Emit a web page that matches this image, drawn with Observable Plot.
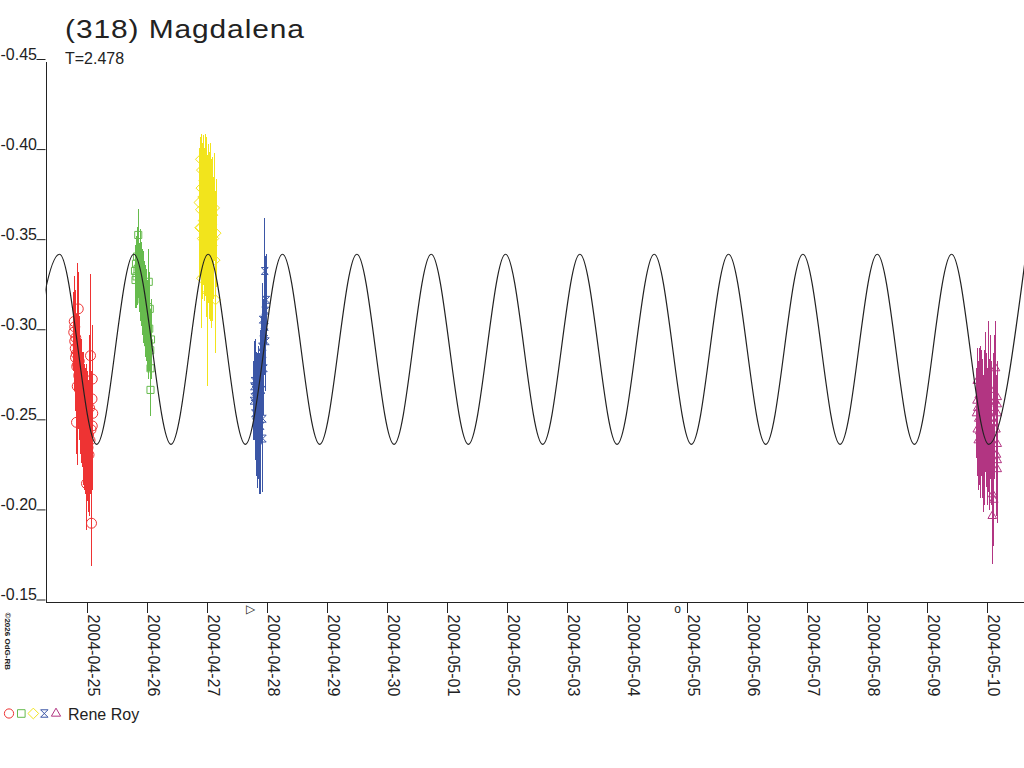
<!DOCTYPE html>
<html>
<head>
<meta charset="utf-8">
<script src="https://cdn.jsdelivr.net/npm/d3@7"></script>
<script src="https://cdn.jsdelivr.net/npm/@observablehq/plot@0.6"></script>
<style>
  html, body { margin: 0; padding: 0; background: #fff; }
  body { width: 1024px; height: 768px; overflow: hidden; font-family: "Liberation Sans", Arial, sans-serif; color: #222; }
  #title { position: relative; height: 40px; z-index: 2; }
  #title .t { position: absolute; left: 65px; top: 15.5px; font-size: 26px; line-height: 26px; letter-spacing: 0.8px; transform: scaleX(1.15); transform-origin: 0 0; white-space: nowrap; }
  #chart { position: relative; height: 665px; }
  #chart .sub { position: absolute; left: 65px; top: 10.5px; font-size: 16px; line-height: 16px; white-space: nowrap; }
  #chart svg line { shape-rendering: crispEdges; }
  #legend { position: relative; height: 24px; font-size: 16px; line-height: 16px; }
  #legend svg { position: absolute; left: 0; top: 0; }
  #legend .name { position: absolute; left: 68px; top: 1.5px; white-space: nowrap; }
</style>
</head>
<body>
<div id="title"><div class="t"></div></div>
<div id="chart"><div class="sub"></div></div>
<div id="legend"></div>
<script>
const titleText = "(318) Magdalena";
const subtitleText = "T=2.478";
const observer = "Rene Roy";
const copyright = "\u00a92026 OdG-RB";

const yTicks = [-0.45, -0.40, -0.35, -0.30, -0.25, -0.20, -0.15];
const xTickLabels = ["2004-04-25","2004-04-26","2004-04-27","2004-04-28","2004-04-29","2004-04-30","2004-05-01","2004-05-02","2004-05-03","2004-05-04","2004-05-05","2004-05-06","2004-05-07","2004-05-08","2004-05-09","2004-05-10"];
const xStart = "2004-04-24T07:48Z";
const xEnd = "2004-05-10T15:12Z";

// fitted lightcurve: extrema
const fitTimes = ["2004-04-23T22:20Z","2004-04-24T13:12Z","2004-04-25T04:04Z","2004-04-25T18:56Z","2004-04-26T09:48Z","2004-04-27T00:40Z","2004-04-27T15:32Z","2004-04-28T06:24Z","2004-04-28T21:17Z","2004-04-29T12:09Z","2004-04-30T03:01Z","2004-04-30T17:53Z","2004-05-01T08:45Z","2004-05-01T23:37Z","2004-05-02T14:29Z","2004-05-03T05:21Z","2004-05-03T20:13Z","2004-05-04T11:05Z","2004-05-05T01:57Z","2004-05-05T16:49Z","2004-05-06T07:42Z","2004-05-06T22:34Z","2004-05-07T13:26Z","2004-05-08T04:18Z","2004-05-08T19:10Z","2004-05-09T10:02Z","2004-05-10T00:54Z","2004-05-10T15:46Z"];
const fitMags = [-0.2378,-0.3433,-0.2378,-0.3433,-0.2378,-0.3433,-0.2378,-0.3433,-0.2378,-0.3433,-0.2378,-0.3433,-0.2378,-0.3433,-0.2378,-0.3433,-0.2378,-0.3433,-0.2378,-0.3433,-0.2378,-0.3433,-0.2378,-0.3433,-0.2378,-0.3433,-0.2378,-0.3433];

// sessions: hours from 2004-04-25 00:00 UT, relative magnitude, error
const redHours = [-5.1,-4.9,-4.7,-4.7,-4.5,-4.4,-4.3,-4.1,-4.0,-3.9,-3.7,-3.5,-3.3,-3.1,-2.9,-2.7,-2.5,-2.3,-2.1,-1.9,-1.7,-1.5,-1.3,-1.1,-0.9,-0.7,-0.5,-0.3,-0.1,0.0,0.2,0.4,0.6,0.8,1.0,1.2,1.4,1.6,1.8,2.0,2.2,2.3,2.3,2.5];
const redMags  = [-0.300,-0.306,-0.303,-0.295,-0.291,-0.286,-0.297,-0.288,-0.250,-0.281,-0.270,-0.282,-0.313,-0.276,-0.284,-0.268,-0.274,-0.262,-0.270,-0.259,-0.265,-0.255,-0.261,-0.249,-0.256,-0.244,-0.252,-0.240,-0.247,-0.216,-0.238,-0.250,-0.236,-0.243,-0.232,-0.258,-0.240,-0.287,-0.246,-0.194,-0.263,-0.274,-0.248,-0.255];
const redErrs  = [0.022,0.025,0.020,0.028,0.024,0.030,0.026,0.022,0.018,0.027,0.024,0.056,0.020,0.030,0.025,0.028,0.022,0.030,0.026,0.032,0.024,0.030,0.028,0.034,0.026,0.032,0.028,0.030,0.035,0.026,0.032,0.028,0.036,0.030,0.034,0.040,0.030,0.045,0.032,0.024,0.040,0.030,0.036,0.028];

const greenHours = [19.4,19.6,19.8,20.0,20.2,20.4,20.7,20.9,21.1,21.2,21.4,21.6,21.8,22.0,22.2,22.4,22.6,22.8,23.0,23.2,23.4,23.6,23.8,24.0,24.2,24.4,24.6,24.9,24.9,25.1,25.3,25.5,25.6,25.6,25.8];
const greenMags  = [-0.334,-0.329,-0.338,-0.331,-0.342,-0.335,-0.354,-0.336,-0.330,-0.328,-0.339,-0.326,-0.333,-0.322,-0.330,-0.318,-0.327,-0.315,-0.322,-0.312,-0.319,-0.308,-0.316,-0.305,-0.311,-0.300,-0.314,-0.328,-0.294,-0.302,-0.313,-0.290,-0.280,-0.268,-0.296];
const greenErrs  = [0.014,0.016,0.015,0.018,0.016,0.020,0.014,0.017,0.019,0.016,0.018,0.020,0.017,0.019,0.016,0.020,0.018,0.021,0.017,0.020,0.018,0.022,0.019,0.021,0.018,0.022,0.020,0.018,0.020,0.024,0.020,0.022,0.024,0.015,0.022];

const yellowHours = [45.0,45.3,45.6,45.6,45.6,45.8,46.0,46.0,46.3,46.5,46.7,46.9,47.1,47.3,47.5,47.7,47.9,48.1,48.3,48.5,48.7,48.9,49.1,49.3,49.5,49.7,49.9,50.1,50.3,50.5,50.9,51.2,51.4,51.6,51.8];
const yellowMags  = [-0.372,-0.358,-0.396,-0.368,-0.358,-0.380,-0.390,-0.330,-0.352,-0.375,-0.362,-0.384,-0.355,-0.370,-0.365,-0.366,-0.378,-0.350,-0.362,-0.322,-0.372,-0.356,-0.345,-0.366,-0.350,-0.375,-0.342,-0.360,-0.348,-0.365,-0.352,-0.369,-0.340,-0.318,-0.355];
const yellowErrs  = [0.030,0.028,0.012,0.032,0.026,0.030,0.020,0.028,0.034,0.030,0.036,0.025,0.038,0.032,0.045,0.034,0.030,0.042,0.036,0.052,0.032,0.040,0.038,0.034,0.044,0.030,0.040,0.036,0.042,0.032,0.034,0.030,0.038,0.030,0.030];

const blueHours = [66.8,67.0,67.2,67.2,67.4,67.6,67.8,68.0,68.2,68.4,68.6,68.8,69.0,69.2,69.4,69.6,69.8,70.0,70.2,70.5,70.5,70.5,70.5,70.7,70.9,71.1,71.3,71.3,71.5,71.7,71.9];
const blueMags  = [-0.262,-0.270,-0.273,-0.264,-0.255,-0.268,-0.250,-0.262,-0.245,-0.258,-0.266,-0.252,-0.240,-0.260,-0.275,-0.248,-0.285,-0.268,-0.292,-0.307,-0.288,-0.252,-0.241,-0.296,-0.280,-0.300,-0.334,-0.303,-0.312,-0.295,-0.318];
const blueErrs  = [0.022,0.025,0.020,0.024,0.026,0.028,0.030,0.027,0.032,0.030,0.026,0.034,0.030,0.028,0.026,0.038,0.024,0.030,0.025,0.020,0.024,0.022,0.030,0.022,0.026,0.024,0.029,0.024,0.030,0.028,0.025];

const magentaHours = [356.0,356.2,356.3,356.3,356.5,356.7,356.9,357.1,357.3,357.5,357.7,357.9,358.1,358.3,358.5,358.7,358.9,359.1,359.3,359.5,359.7,359.9,360.1,360.3,360.5,360.7,360.9,361.1,361.3,361.5,361.7,361.9,362.1,362.3,362.5,362.7,362.9,363.1,363.3,363.6,363.8,364.0,364.3,364.3,364.3,364.3,364.3,364.3];
const magentaMags  = [-0.255,-0.262,-0.273,-0.246,-0.258,-0.240,-0.252,-0.265,-0.245,-0.258,-0.236,-0.250,-0.262,-0.242,-0.255,-0.232,-0.248,-0.260,-0.240,-0.252,-0.266,-0.244,-0.256,-0.238,-0.250,-0.262,-0.243,-0.255,-0.235,-0.248,-0.268,-0.240,-0.252,-0.198,-0.210,-0.258,-0.207,-0.250,-0.262,-0.280,-0.246,-0.232,-0.264,-0.260,-0.255,-0.238,-0.229,-0.224];
const magentaErrs  = [0.025,0.022,0.018,0.026,0.030,0.028,0.032,0.026,0.030,0.034,0.028,0.030,0.028,0.034,0.030,0.032,0.028,0.030,0.036,0.030,0.034,0.030,0.032,0.034,0.030,0.044,0.032,0.030,0.034,0.030,0.030,0.036,0.032,0.022,0.039,0.030,0.026,0.032,0.036,0.026,0.030,0.034,0.020,0.022,0.024,0.026,0.028,0.030];

// small markers under the axis
const markerTimes = ["2004-04-27T17:36Z", "2004-05-04T20:24Z"];
const markerGlyphs = ["\u25b7", "o"];

// ---- build tables ----
const base = Date.UTC(2004, 3, 25);
const table = (hs, ms, es) => hs.map((h, i) => ({t: new Date(base + h * 3600e3), m: ms[i], e: es[i]}));
const hourglass = {draw(ctx, size) { const s = Math.sqrt(size) / 2; ctx.moveTo(-s, -s); ctx.lineTo(s, -s); ctx.lineTo(-s, s); ctx.lineTo(s, s); ctx.closePath(); }};
const sessions = [
  {data: table(redHours, redMags, redErrs), color: "#ee3333", symbol: "circle", r: 5},
  {data: table(greenHours, greenMags, greenErrs), color: "#66bb4d", symbol: "square", r: 4},
  {data: table(yellowHours, yellowMags, yellowErrs), color: "#f2e41c", symbol: "diamond2", r: 4.5},
  {data: table(blueHours, blueMags, blueErrs), color: "#3b56a6", symbol: hourglass, r: 3.9},
  {data: table(magentaHours, magentaMags, magentaErrs), color: "#b23582", symbol: "triangle", r: 3.2}
];
const fit = fitTimes.map((t, i) => ({t: new Date(t), m: fitMags[i]}));
const markers = markerTimes.map((t, i) => ({t: new Date(t), s: markerGlyphs[i]}));
const xTicks = xTickLabels.map(s => new Date(s + "T00:00Z"));
const x0 = new Date(xStart), x1 = new Date(xEnd);

const marks = [];
for (const s of sessions) {
  marks.push(Plot.dot(s.data, {x: "t", y: "m", symbol: s.symbol, r: s.r, stroke: s.color, strokeWidth: 1, fill: "none"}));
}
for (const s of sessions) {
  marks.push(Plot.ruleX(s.data, {x: "t", y1: d => d.m - d.e, y2: d => d.m + d.e, stroke: s.color, strokeWidth: 1}));
}
marks.push(
  Plot.line(fit, {x: "t", y: "m", curve: "monotone-x", stroke: "#222", strokeWidth: 1.2, clip: true}),
  Plot.ruleX([x0], {stroke: "#222"}),
  Plot.ruleY([-0.15], {stroke: "#222"}),
  Plot.axisY({ticks: yTicks, tickSize: 9, tickPadding: 0, tickFormat: d => d.toFixed(2), lineAnchor: "bottom", dy: -2.5, stroke: "#222", fill: "#222"}),
  Plot.axisX({ticks: xTicks, tickSize: 11, tickPadding: 1, tickFormat: d3.utcFormat("%Y-%m-%d"), tickRotate: 90, textAnchor: "start", lineAnchor: "bottom", dx: 1, stroke: "#222", fill: "#222"}),
  Plot.text(markers, {x: "t", y: () => -0.15, text: "s", dy: 7, fontSize: 12, fill: "#222"}),
  Plot.text([copyright], {frameAnchor: "bottom-left", text: d => d, rotate: 90, textAnchor: "start", dx: -41.5, dy: 10, fontSize: 8, fontWeight: "bold", fill: "#222"})
);

const chart = Plot.plot({
  width: 1024, height: 665,
  marginLeft: 45.5, marginRight: 0, marginTop: 21.5, marginBottom: 103,
  style: {fontFamily: "'Liberation Sans', Arial, sans-serif", fontSize: "16px", color: "#222", background: "none", overflow: "visible"},
  x: {type: "utc", domain: [x0, x1], label: null},
  y: {domain: [-0.15, -0.45], label: null},
  marks
});

document.querySelector("#title .t").textContent = titleText;
document.querySelector("#chart .sub").textContent = subtitleText;
document.querySelector("#chart").prepend(chart);

// legend
const lg = d3.select("#legend");
const lsvg = lg.append("svg").attr("width", 66).attr("height", 20);
const legendX = [9, 21.3, 33.3, 44.3, 56];
sessions.forEach((s, i) => {
  const sym = typeof s.symbol === "string" ? {circle: d3.symbolCircle, square: d3.symbolSquare, diamond2: d3.symbolDiamond2, triangle: d3.symbolTriangle}[s.symbol] : s.symbol;
  const size = Math.PI * s.r * s.r * (i === 0 ? 0.85 : 1.15);
  lsvg.append("path").attr("d", d3.symbol(sym, size)()).attr("transform", `translate(${legendX[i]},8.5)`).attr("fill", "none").attr("stroke", s.color).attr("stroke-width", 1);
});
lg.append("span").attr("class", "name").text(observer);
</script>
</body>
</html>
